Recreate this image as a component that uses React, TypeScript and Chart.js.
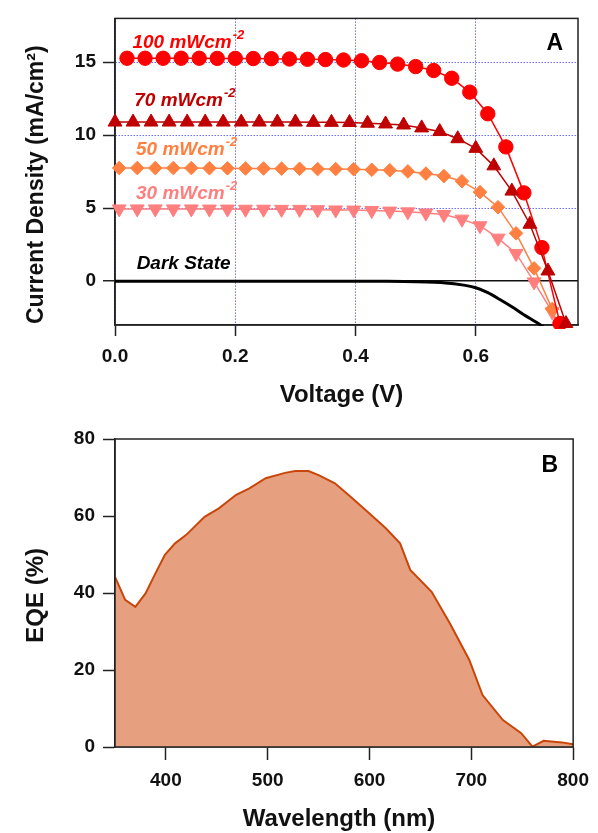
import { useEffect, useRef } from 'react';
import { Chart, registerables } from 'chart.js';

Chart.register(...registerables);

const FONT = '"Liberation Sans", Arial, Helvetica, sans-serif';

// ---------- Panel A : J-V curves ----------
const v100 = [0.02, 0.05, 0.08, 0.11, 0.14, 0.17, 0.2, 0.23, 0.26, 0.29, 0.32, 0.35, 0.38, 0.41, 0.44, 0.47, 0.5, 0.53, 0.56, 0.59, 0.62, 0.65, 0.68, 0.71, 0.74];
const j100 = [15.27, 15.27, 15.27, 15.27, 15.27, 15.26, 15.26, 15.25, 15.24, 15.22, 15.2, 15.18, 15.15, 15.1, 14.98, 14.87, 14.7, 14.43, 13.9, 12.95, 11.47, 9.2, 6.05, 2.3, -2.9];

const v70 = [0, 0.03, 0.06, 0.09, 0.12, 0.15, 0.18, 0.21, 0.24, 0.27, 0.3, 0.33, 0.36, 0.39, 0.42, 0.45, 0.48, 0.51, 0.54, 0.57, 0.6, 0.63, 0.66, 0.69, 0.72, 0.75];
const j70 = [10.9, 10.9, 10.9, 10.9, 10.9, 10.9, 10.9, 10.9, 10.9, 10.9, 10.9, 10.88, 10.88, 10.87, 10.82, 10.77, 10.7, 10.5, 10.25, 9.76, 9.1, 7.9, 6.17, 3.9, 0.7, -2.9];

const v50 = [0.007, 0.037, 0.067, 0.097, 0.127, 0.157, 0.187, 0.217, 0.247, 0.277, 0.307, 0.337, 0.367, 0.397, 0.427, 0.457, 0.487, 0.517, 0.547, 0.577, 0.607, 0.637, 0.667, 0.697, 0.727, 0.757];
const j50 = [7.75, 7.75, 7.75, 7.75, 7.75, 7.74, 7.73, 7.72, 7.72, 7.71, 7.7, 7.68, 7.68, 7.67, 7.63, 7.6, 7.52, 7.37, 7.2, 6.85, 6.1, 5.07, 3.28, 0.88, -1.9, -5.5];

const v30 = [0.007, 0.037, 0.067, 0.097, 0.127, 0.157, 0.187, 0.217, 0.247, 0.277, 0.307, 0.337, 0.367, 0.397, 0.427, 0.457, 0.487, 0.517, 0.547, 0.577, 0.607, 0.637, 0.667, 0.697, 0.727, 0.757];
const j30 = [4.95, 4.95, 4.95, 4.95, 4.95, 4.94, 4.94, 4.93, 4.93, 4.92, 4.92, 4.9, 4.88, 4.87, 4.84, 4.8, 4.75, 4.67, 4.57, 4.25, 3.8, 2.95, 1.9, -0.05, -2.1, -5.0];

const vDark = [0, 0.1, 0.2, 0.3, 0.4, 0.45, 0.5, 0.55, 0.58, 0.6, 0.62, 0.64, 0.66, 0.68, 0.7, 0.715];
const jDark = [0, 0, 0, 0, 0, -0.01, -0.04, -0.12, -0.27, -0.45, -0.78, -1.25, -1.75, -2.3, -2.8, -3.2];

const voltageTicks = [0, 0.2, 0.4, 0.6];
const currentTicks = [0, 5, 10, 15];

const seriesNames = ['100 mWcm', '70 mWcm', '50 mWcm', '30 mWcm', 'Dark State'];
const seriesSup = ['-2', '-2', '-2', '-2', ''];
const labelV = [0.029, 0.032, 0.035, 0.035, 0.036];
const labelJ = [16.0, 11.98, 8.67, 5.65, 0.85];

// ---------- Panel B : EQE ----------
const wavelength = [350, 360, 370, 380, 388, 399, 409, 420, 438, 452, 469, 482, 498, 517, 527, 540, 550, 566, 580, 598, 616, 630, 640, 661, 679, 698, 711, 731, 749, 760, 771, 789, 800];
const eqe = [44.2, 38.2, 36.4, 39.9, 44.2, 49.9, 52.9, 55.1, 59.8, 62.0, 65.5, 67.2, 69.8, 71.2, 71.7, 71.7, 70.6, 68.5, 65.3, 61.1, 56.8, 52.9, 46.0, 40.3, 32.1, 22.6, 13.5, 7.0, 3.6, 0.1, 1.6, 1.2, 0.7];
const wavelengthTicks = [400, 500, 600, 700, 800];
const eqeTicks = [0, 20, 40, 60, 80];

// ---------- styles ----------
const C100 = '#ff0000';
const C70 = '#c00000';
const C50 = '#ff8040';
const C30 = '#ff7f7f';
const labelColors = [C100, C70, C50, C30, '#000000'];
const AXIS = '#222222';
const GRID = '#6f6fff';
const TICK_FONT = { family: FONT, size: 19, weight: 'bold' as const };

const toPoints = (xs: number[], ys: number[]) => xs.map((x, i) => ({ x, y: ys[i] }));

const markerSet = (label: string, xs: number[], ys: number[], color: string, style: string, radius: number, rotation = 0) => ({
  label,
  data: toPoints(xs, ys),
  borderColor: color,
  backgroundColor: color,
  borderWidth: 1.5,
  pointStyle: style,
  pointRadius: radius,
  pointRotation: rotation,
  pointBackgroundColor: color,
  pointBorderColor: color,
  pointBorderWidth: 1,
  tension: 0,
  clip: { left: 10, top: 10, right: 10, bottom: 4 },
});

const framePlugin = (id: string, hook: string) => ({
  id,
  [hook](chart: any) {
    const { ctx, chartArea: a } = chart;
    ctx.save();
    ctx.strokeStyle = AXIS;
    ctx.lineWidth = 1.5;
    ctx.strokeRect(a.left, a.top, a.right - a.left, a.bottom - a.top);
    ctx.restore();
  },
});

const drawTitles = (chart: any, xTitle: string, xBase: number, yTitle: string, yFont: number, yShift: number, letter: string, letterBase: number) => {
  const { ctx, chartArea: a } = chart;
  ctx.save();
  ctx.fillStyle = '#111';
  ctx.textBaseline = 'alphabetic';
  ctx.textAlign = 'center';
  ctx.font = `bold 24px ${FONT}`;
  ctx.fillText(xTitle, (a.left + a.right) / 2 - 5, a.bottom + xBase);
  ctx.save();
  ctx.translate(a.left - 72.3, (a.top + a.bottom) / 2 + yShift);
  ctx.rotate(-Math.PI / 2);
  ctx.font = `bold ${yFont}px ${FONT}`;
  ctx.fillText(yTitle, 0, 0);
  ctx.restore();
  ctx.font = `bold 23px ${FONT}`;
  ctx.fillStyle = '#000';
  ctx.fillText(letter, a.right - 23.3, a.top + letterBase);
  ctx.restore();
};

const labelsPlugin = {
  id: 'seriesLabels',
  afterDatasetsDraw(chart: any) {
    const { ctx, scales } = chart;
    ctx.save();
    ctx.textAlign = 'left';
    ctx.textBaseline = 'alphabetic';
    seriesNames.forEach((name, i) => {
      const px = scales.x.getPixelForValue(labelV[i]);
      const py = scales.y.getPixelForValue(labelJ[i]);
      ctx.fillStyle = labelColors[i];
      ctx.font = `italic bold 19px ${FONT}`;
      ctx.fillText(name, px, py);
      if (seriesSup[i]) {
        const w = ctx.measureText(name).width;
        ctx.font = `italic bold 13px ${FONT}`;
        ctx.fillText(seriesSup[i], px + w + 1, py - 9);
      }
    });
    ctx.restore();
  },
};

export default function App() {
  const topRef = useRef<HTMLCanvasElement>(null);
  const botRef = useRef<HTMLCanvasElement>(null);

  useEffect(() => {
    const top = new Chart(topRef.current as HTMLCanvasElement, {
      type: 'line',
      data: {
        datasets: [
          markerSet('70', v70, j70, C70, 'triangle', 8),
          markerSet('100', v100, j100, C100, 'circle', 7.2),
          markerSet('50', v50, j50, C50, 'rectRot', 6.8),
          markerSet('30', v30, j30, C30, 'triangle', 8, 180),
          {
            label: 'Dark',
            data: toPoints(vDark, jDark),
            borderColor: '#000',
            borderWidth: 3,
            pointRadius: 0,
            tension: 0.3,
            clip: { left: 5, top: 5, right: 5, bottom: 1 },
          },
        ] as any,
      },
      options: {
        responsive: false,
        animation: false,
        layout: { padding: { left: 0, right: 20, top: 13, bottom: 0 } },
        plugins: { legend: { display: false }, tooltip: { enabled: false } },
        scales: {
          x: {
            type: 'linear',
            min: 0,
            max: 0.77,
            afterBuildTicks: (s: any) => { s.ticks = voltageTicks.map((v) => ({ value: v })); },
            afterFit: (s: any) => { s.height = 85; },
            ticks: { font: TICK_FONT, color: '#111', padding: 9, maxRotation: 0, autoSkip: false, callback: (v: any) => Number(v).toFixed(1) },
            grid: {
              color: GRID,
              lineWidth: 1,
              tickColor: AXIS,
              tickLength: 11,
              tickWidth: 1.5,
            },
            border: { color: AXIS, width: 1.5, dash: [1.5, 1.5] },
          },
          y: {
            type: 'linear',
            min: -3,
            max: 18,
            afterBuildTicks: (s: any) => { s.ticks = currentTicks.map((v) => ({ value: v })); },
            afterFit: (s: any) => { s.width = 115; },
            ticks: { font: TICK_FONT, color: '#111', padding: 7, autoSkip: false, callback: (v: any) => String(v) },
            grid: {
              color: (c: any) => (c.tick && c.tick.value === 0 ? '#111' : GRID),
              lineWidth: (c: any) => (c.tick && c.tick.value === 0 ? 1.5 : 1),
              tickColor: AXIS,
              tickLength: 12,
              tickWidth: 1.5,
            },
            border: { color: AXIS, width: 1.5, dash: (c: any) => (c.type === 'tick' && c.tick && c.tick.value !== 0 ? [1.5, 1.5] : []) },
          },
        },
      } as any,
      plugins: [
        framePlugin('frameA', 'beforeDatasetsDraw'),
        labelsPlugin,
        { id: 'titlesA', afterDraw: (c: any) => drawTitles(c, 'Voltage (V)', 76.7, 'Current Density (mA/cm²)', 23, 13, 'A', 32) },
      ],
    });

    const bot = new Chart(botRef.current as HTMLCanvasElement, {
      type: 'line',
      data: {
        datasets: [
          {
            label: 'EQE',
            data: toPoints(wavelength, eqe),
            borderColor: '#c8460a',
            borderWidth: 2,
            backgroundColor: '#e6a07f',
            fill: 'origin',
            pointRadius: 0,
            tension: 0,
          },
        ] as any,
      },
      options: {
        responsive: false,
        animation: false,
        layout: { padding: { left: 0, right: 19, top: 29, bottom: 0 } },
        plugins: { legend: { display: false }, tooltip: { enabled: false } },
        scales: {
          x: {
            type: 'linear',
            min: 350,
            max: 800,
            afterBuildTicks: (s: any) => { s.ticks = wavelengthTicks.map((v) => ({ value: v })); },
            afterFit: (s: any) => { s.height = 86; },
            ticks: { font: TICK_FONT, color: '#111', padding: 9, maxRotation: 0, autoSkip: false, callback: (v: any) => String(v) },
            grid: { drawOnChartArea: false, tickColor: AXIS, tickLength: 13, tickWidth: 1.5 },
            border: { color: AXIS, width: 1.5 },
          },
          y: {
            type: 'linear',
            min: 0,
            max: 80,
            afterBuildTicks: (s: any) => { s.ticks = eqeTicks.map((v) => ({ value: v })); },
            afterFit: (s: any) => { s.width = 115; },
            ticks: { font: TICK_FONT, color: '#111', padding: 8, autoSkip: false, callback: (v: any) => String(v) },
            grid: { drawOnChartArea: false, tickColor: AXIS, tickLength: 12, tickWidth: 1.5 },
            border: { color: AXIS, width: 1.5 },
          },
        },
      } as any,
      plugins: [
        framePlugin('frameB', 'afterDatasetsDraw'),
        { id: 'titlesB', afterDraw: (c: any) => drawTitles(c, 'Wavelength (nm)', 79, 'EQE (%)', 24, 2.3, 'B', 33.4) },
      ],
    });

    return () => {
      top.destroy();
      bot.destroy();
    };
  }, []);

  return (
    <div style={{ position: 'absolute', left: 0, top: 0, width: 598, height: 833, background: '#fff' }}>
      <canvas ref={topRef} width={598} height={410} style={{ display: 'block' }} />
      <canvas ref={botRef} width={598} height={423} style={{ display: 'block' }} />
    </div>
  );
}
